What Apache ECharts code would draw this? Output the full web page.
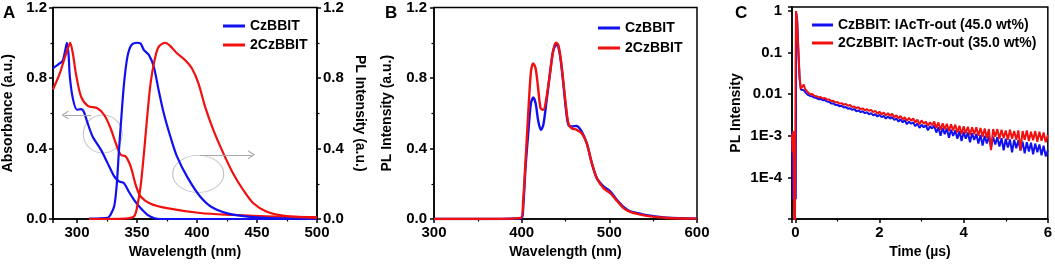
<!DOCTYPE html>
<html>
<head>
<meta charset="utf-8">
<script src="https://cdn.jsdelivr.net/npm/echarts@6/dist/echarts.min.js"></script>
<style>
  html, body { margin: 0; padding: 0; background: #fff; }
  #chart { width: 1055px; height: 264px; }
</style>
</head>
<body>
<div id="chart"></div>
<script>
// panel A: absorbance (left axis) and PL (right axis), x in nm
var absCz = [[280,0.855],[283,0.87],[285.5,0.883],[288,0.896],[290,0.95],[291.6,1.0],[293,0.93],[294,0.81],[296.5,0.685],[300,0.62],[303.4,0.623],[305.6,0.61],[308.4,0.553],[313,0.468],[320,0.392],[325.5,0.317],[331,0.242],[335,0.213],[339,0.204],[343,0.157],[347.5,0.109],[353,0.062],[358.5,0.025],[364,0.006],[369.5,0.0],[420,0.0],[500,0.0]];
var absTwo = [[280,0.735],[285.5,0.823],[289.6,0.911],[292.5,0.97],[294.3,1.0],[296.5,0.94],[299.3,0.817],[303.4,0.694],[309,0.642],[317,0.628],[322.7,0.59],[328,0.515],[332.3,0.43],[336.5,0.364],[340.6,0.355],[344.7,0.298],[348.9,0.194],[353,0.128],[361.3,0.087],[375,0.062],[402.6,0.034],[430,0.023],[457.7,0.015],[500,0.011]];
var plCzA = [[310,0.002],[325.5,0.006],[328,0.025],[331,0.072],[333,0.185],[335,0.392],[337,0.58],[339.2,0.77],[342,0.92],[345.3,0.987],[350.2,1.0],[353,0.996],[355.8,0.958],[360,0.93],[364,0.864],[368,0.732],[372.3,0.6],[377.8,0.468],[383.3,0.355],[391.6,0.242],[402.6,0.128],[413.6,0.062],[430,0.025],[457.7,0.006],[500,0.002]];
var plTwoA = [[310,0.0],[340,0.002],[347.5,0.015],[350.2,0.072],[353,0.185],[355.8,0.374],[358.5,0.58],[361.3,0.77],[364.6,0.9],[368,0.977],[373.6,1.0],[377.8,0.981],[383.3,0.94],[390,0.902],[395.7,0.855],[401.2,0.77],[406.7,0.638],[413.6,0.506],[421.9,0.374],[430,0.26],[438.4,0.166],[446.7,0.091],[457.7,0.043],[471.5,0.019],[500,0.006]];

// panel B: PL spectra
var plCzB = [[300,0],[350,0],[399.9,0.006],[401.8,0.072],[404.5,0.3],[407.5,0.487],[410.6,0.657],[413.2,0.689],[415.9,0.657],[419,0.553],[422,0.506],[424.7,0.534],[428.5,0.675],[432.3,0.826],[436.1,0.958],[440,0.99],[441.8,0.977],[444.5,0.902],[447.5,0.77],[450.6,0.619],[453.3,0.534],[457,0.525],[462.8,0.528],[468.5,0.496],[474.2,0.43],[480,0.317],[485.7,0.232],[493.3,0.185],[501,0.157],[508.5,0.109],[516.2,0.068],[523.8,0.043],[535.2,0.03],[546.7,0.019],[565.7,0.008],[600,0.002]];
var plTwoB = [[300,0],[350,0],[399.1,0.006],[401.8,0.11],[404.5,0.336],[407.5,0.6],[410.6,0.836],[413.2,0.883],[415.9,0.855],[419,0.732],[421.6,0.628],[424.7,0.619],[428.5,0.694],[432.3,0.826],[436.1,0.958],[439.2,1.0],[441.8,0.987],[444.5,0.911],[447.5,0.779],[450.6,0.638],[453.3,0.543],[457,0.515],[462.8,0.506],[468.5,0.487],[474.2,0.43],[480,0.317],[485.7,0.232],[493.3,0.175],[501,0.147],[508.5,0.104],[516.2,0.062],[523.8,0.04],[535.2,0.025],[546.7,0.015],[565.7,0.006],[600,0.002]];

// panel C: transient decay, time in us
var earlyCz = [[-0.08,1.3e-3],[-0.07,3e-4],[-0.06,3e-5],[-0.05,6e-4],[-0.04,1e-4],[-0.03,3e-5],[-0.015,1e-5],[0.0,1e-4],[0.01,3e-5],[0.02,0.9],[0.03,1.0],[0.045,0.6],[0.07,0.12],[0.1,0.024],[0.13,0.013],[0.17,0.012],[0.2,0.0125],[0.25,0.0108]];
var earlyTwo = [[-0.08,1.1e-3],[-0.065,4e-4],[-0.05,1.3e-3],[-0.04,3e-4],[-0.025,5e-6],[-0.01,3e-6],[0.005,0.05],[0.015,1.0],[0.035,0.7],[0.06,0.2],[0.1,0.027],[0.13,0.0135],[0.17,0.014],[0.2,0.017],[0.23,0.0135],[0.27,0.012]];
var timesC = [0.30,0.35,0.40,0.45,0.50,0.55,0.60,0.65,0.70,0.75,
  0.80,0.85,0.90,0.95,1.00,1.05,1.10,1.15,1.20,1.25,
  1.30,1.35,1.40,1.45,1.50,1.55,1.60,1.65,1.70,1.75,
  1.80,1.85,1.90,1.95,2.00,2.05,2.10,2.15,2.20,2.25,
  2.30,2.35,2.40,2.45,2.50,2.55,2.60,2.65,2.70,2.75,
  2.80,2.85,2.90,2.95,3.00,3.05,3.10,3.15,3.20,3.25,
  3.30,3.35,3.40,3.45,3.50,3.55,3.60,3.65,3.70,3.75,
  3.80,3.85,3.90,3.95,4.00,4.05,4.10,4.15,4.20,4.25,
  4.30,4.35,4.40,4.45,4.50,4.55,4.60,4.65,4.70,4.75,
  4.80,4.85,4.90,4.95,5.00,5.05,5.10,5.15,5.20,5.25,
  5.30,5.35,5.40,5.45,5.50,5.55,5.60,5.65,5.70,5.75,
  5.80,5.85,5.90,5.95,6.00];
var decayCz = [9.6e-3,9.1e-3,8.9e-3,8.3e-3,8.1e-3,7.6e-3,7.7e-3,7.2e-3,7.3e-3,6.7e-3,
  6.6e-3,6.0e-3,6.1e-3,5.5e-3,5.6e-3,5.1e-3,5.3e-3,4.8e-3,4.9e-3,4.5e-3,
  4.6e-3,4.2e-3,4.4e-3,3.9e-3,4.1e-3,3.7e-3,3.9e-3,3.5e-3,3.7e-3,3.3e-3,
  3.5e-3,3.1e-3,3.3e-3,2.9e-3,3.2e-3,2.8e-3,3.0e-3,2.6e-3,2.9e-3,2.6e-3,
  2.8e-3,2.4e-3,2.6e-3,2.2e-3,2.5e-3,2.1e-3,2.4e-3,1.9e-3,2.2e-3,1.95e-3,
  2.1e-3,1.7e-3,2.0e-3,1.55e-3,1.85e-3,1.6e-3,1.8e-3,1.35e-3,1.7e-3,1.5e-3,
  1.75e-3,1.2e-3,1.6e-3,1.0e-3,1.55e-3,1.1e-3,1.5e-3,0.9e-3,1.4e-3,1.0e-3,
  1.35e-3,0.85e-3,1.3e-3,0.75e-3,1.25e-3,0.85e-3,1.2e-3,0.7e-3,1.15e-3,0.8e-3,
  1.1e-3,0.65e-3,1.05e-3,0.58e-3,1.0e-3,0.65e-3,0.98e-3,0.52e-3,0.95e-3,0.62e-3,
  0.92e-3,0.55e-3,0.88e-3,0.45e-3,0.85e-3,0.52e-3,0.82e-3,0.4e-3,0.8e-3,0.5e-3,
  0.78e-3,0.44e-3,0.72e-3,0.38e-3,0.7e-3,0.42e-3,0.68e-3,0.36e-3,0.65e-3,0.4e-3,
  0.62e-3,0.34e-3,0.58e-3,0.32e-3,0.45e-3];
var decayTwo = [10.8e-3,10.0e-3,10.1e-3,9.2e-3,9.0e-3,8.4e-3,8.6e-3,7.9e-3,8.1e-3,7.5e-3,
  7.5e-3,6.9e-3,7.0e-3,6.3e-3,6.5e-3,5.9e-3,6.1e-3,5.6e-3,5.8e-3,5.3e-3,
  5.5e-3,4.9e-3,5.1e-3,4.6e-3,4.9e-3,4.3e-3,4.6e-3,4.1e-3,4.4e-3,4.0e-3,
  4.2e-3,3.7e-3,4.0e-3,3.4e-3,3.8e-3,3.3e-3,3.6e-3,3.1e-3,3.5e-3,3.0e-3,
  3.4e-3,2.8e-3,3.1e-3,2.6e-3,3.0e-3,2.5e-3,2.8e-3,2.3e-3,2.7e-3,2.3e-3,
  2.6e-3,2.1e-3,2.45e-3,1.9e-3,2.35e-3,1.95e-3,2.2e-3,1.75e-3,2.1e-3,1.8e-3,
  2.2e-3,1.55e-3,2.1e-3,1.4e-3,2.0e-3,1.45e-3,1.95e-3,1.3e-3,1.9e-3,1.35e-3,
  1.85e-3,1.2e-3,1.75e-3,1.1e-3,1.7e-3,1.15e-3,1.65e-3,1.05e-3,1.6e-3,1.1e-3,
  1.6e-3,1.0e-3,1.55e-3,0.95e-3,1.5e-3,0.9e-3,1.45e-3,0.45e-3,1.45e-3,0.95e-3,
  1.45e-3,0.85e-3,1.4e-3,0.88e-3,1.35e-3,0.8e-3,1.4e-3,0.85e-3,1.3e-3,0.8e-3,
  1.35e-3,0.45e-3,1.3e-3,0.8e-3,1.35e-3,0.75e-3,1.25e-3,0.78e-3,1.3e-3,0.72e-3,
  1.25e-3,0.76e-3,1.2e-3,0.7e-3,1.05e-3];

// grey guide marks in panel A (ellipse centres and arrows, data coords)
var guideRings = [[321.5,0.482],[401,0.256]];
var guideArrowLeft = [[312,0.59],[290,0.59]];
var guideArrowRight = [[402.5,0.364],[445.5,0.364]];

var FONT = "'Liberation Sans', Arial, sans-serif";
var BLUE = '#1010f0';
var RED = '#f01010';

function zip(ts, vs) {
  return ts.map(function (t, i) { return [t, vs[i]]; });
}

function logLabel(v) {
  var l = Math.log10(v);
  var p = Math.round(l);
  if (Math.abs(l - p) > 1e-6) return '';
  var names = { '0': '1', '-1': '0.1', '-2': '0.01', '-3': '1E-3', '-4': '1E-4' };
  return names[String(p)] || '';
}

var tickText = { color: '#000', fontFamily: FONT, fontWeight: 'bold', fontSize: 15 };
var nameText = { color: '#000', fontFamily: FONT, fontWeight: 'bold', fontSize: 14 };
var legendText = { color: '#000', fontFamily: FONT, fontWeight: 'bold', fontSize: 14 };

function axisBase(extra) {
  var base = {
    type: 'value',
    nameLocation: 'middle',
    nameTextStyle: nameText,
    axisLine: { show: true, onZero: false, lineStyle: { color: '#000', width: 1.5 } },
    axisTick: { show: true, inside: false, length: 4, lineStyle: { color: '#000', width: 1.5 } },
    minorTick: { show: true, splitNumber: 2, length: 2.5, lineStyle: { color: '#000', width: 1.2 } },
    axisLabel: Object.assign({ margin: 6 }, tickText),
    splitLine: { show: false },
    minorSplitLine: { show: false }
  };
  return Object.assign(base, extra);
}

var chart = echarts.init(document.getElementById('chart'), null, { renderer: 'canvas' });

var lineCommon = { type: 'line', showSymbol: false, symbol: 'none', animation: false, silent: true };

chart.setOption({
  backgroundColor: '#fff',
  animation: false,
  textStyle: { fontFamily: FONT },
  grid: [
    { left: 53, top: 7, width: 264, height: 212, show: true, borderColor: '#000', borderWidth: 1.5 },
    { left: 434, top: 7, width: 263, height: 212, show: true, borderColor: '#000', borderWidth: 1.5 },
    { left: 792, top: 7, width: 257, height: 212, show: true, borderColor: '#000', borderWidth: 1.5 }
  ],
  legend: [
    {
      left: 223, top: 19, padding: 0, orient: 'vertical', itemWidth: 22, itemHeight: 3, itemGap: 5, icon: 'rect',
      textStyle: legendText, data: ['CzBBIT', '2CzBBIT'], selectedMode: false
    },
    {
      left: 598, top: 21, padding: 0, orient: 'vertical', itemWidth: 22, itemHeight: 3, itemGap: 6, icon: 'rect',
      textStyle: legendText, data: ['CzBBIT ', '2CzBBIT '], selectedMode: false
    },
    {
      left: 812, top: 18, padding: 0, orient: 'vertical', itemWidth: 21, itemHeight: 3, itemGap: 4, icon: 'rect',
      textStyle: legendText,
      data: ['CzBBIT: IAcTr-out (45.0 wt%)', '2CzBBIT: IAcTr-out (35.0 wt%)'], selectedMode: false
    }
  ],
  xAxis: [
    axisBase({
      gridIndex: 0, min: 280, max: 500, splitNumber: 4,
      name: 'Wavelength (nm)', nameGap: 26,
      axisLabel: Object.assign({ margin: 6, showMinLabel: false,
        formatter: function (v) { return v % 50 === 0 ? String(v) : ''; } }, tickText)
    }),
    axisBase({
      gridIndex: 1, min: 300, max: 600, interval: 100,
      name: 'Wavelength (nm)', nameGap: 26
    }),
    axisBase({
      gridIndex: 2, min: -0.08, max: 6, splitNumber: 3,
      name: 'Time (\u00b5s)', nameGap: 26,
      axisLabel: Object.assign({ margin: 6, showMinLabel: false,
        formatter: function (v) {
          var r = Math.round(v);
          return (Math.abs(v - r) < 1e-9 && r % 2 === 0) ? String(r) : '';
        } }, tickText)
    })
  ],
  yAxis: [
    axisBase({
      gridIndex: 0, min: 0, max: 1.2, interval: 0.4,
      name: 'Absorbance (a.u.)', nameGap: 38,
      axisLabel: Object.assign({ margin: 6, formatter: function (v) { return v.toFixed(1); } }, tickText)
    }),
    axisBase({
      gridIndex: 0, position: 'right', min: 0, max: 1.2, interval: 0.4,
      name: 'PL Intensity (a.u.)', nameGap: 36, nameRotate: -90,
      axisLabel: Object.assign({ margin: 6, formatter: function (v) { return v.toFixed(1); } }, tickText)
    }),
    axisBase({
      gridIndex: 1, min: 0, max: 1.2, interval: 0.4,
      name: 'PL Intensity (a.u.)', nameGap: 40,
      axisLabel: Object.assign({ margin: 7, formatter: function (v) { return v.toFixed(1); } }, tickText)
    }),
    axisBase({
      gridIndex: 2, type: 'log', logBase: 10, min: 1e-5, max: 1.25,
      name: 'PL Intensity', nameGap: 49,
      minorTick: { show: false },
      axisLabel: Object.assign({ margin: 10, formatter: logLabel }, tickText)
    })
  ],
  graphic: [
    { type: 'text', left: 3, top: 5, style: { text: 'A', fill: '#000', font: 'bold 17px ' + FONT } },
    { type: 'text', left: 385, top: 5, style: { text: 'B', fill: '#000', font: 'bold 17px ' + FONT } },
    { type: 'text', left: 735, top: 5, style: { text: 'C', fill: '#000', font: 'bold 17px ' + FONT } }
  ],
  series: [
    Object.assign({}, lineCommon, { name: 'CzBBIT', xAxisIndex: 0, yAxisIndex: 0, data: absCz, smooth: 0.3,
      lineStyle: { color: BLUE, width: 2.2 }, itemStyle: { color: BLUE } }),
    Object.assign({}, lineCommon, { name: '2CzBBIT', xAxisIndex: 0, yAxisIndex: 0, data: absTwo, smooth: 0.3,
      lineStyle: { color: RED, width: 2.2 }, itemStyle: { color: RED } }),
    Object.assign({}, lineCommon, { name: 'CzBBIT', xAxisIndex: 0, yAxisIndex: 1, data: plCzA, smooth: 0.3,
      lineStyle: { color: BLUE, width: 2.2 }, itemStyle: { color: BLUE } }),
    Object.assign({}, lineCommon, { name: '2CzBBIT', xAxisIndex: 0, yAxisIndex: 1, data: plTwoA, smooth: 0.3,
      lineStyle: { color: RED, width: 2.2 }, itemStyle: { color: RED } }),
    {
      type: 'scatter', name: 'guides', xAxisIndex: 0, yAxisIndex: 0, silent: true, animation: false,
      data: guideRings,
      symbol: 'circle',
      symbolSize: function (val, p) { return p.dataIndex === 0 ? [39, 38] : [51, 37]; },
      itemStyle: { color: 'rgba(0,0,0,0)', borderColor: '#b4b4b4', borderWidth: 1 },
      markLine: {
        silent: true, animation: false,
        symbol: ['none', 'path://M0,10 L5,0 L10,10 L8.6,10 L5,3 L1.4,10 Z'],
        symbolSize: [9, 7],
        label: { show: false },
        lineStyle: { color: '#a8a8a8', width: 1, type: 'solid' },
        emphasis: { disabled: true },
        data: [
          [{ coord: guideArrowLeft[0] }, { coord: guideArrowLeft[1] }],
          [{ coord: guideArrowRight[0] }, { coord: guideArrowRight[1] }]
        ]
      }
    },
    Object.assign({}, lineCommon, { name: 'CzBBIT ', xAxisIndex: 1, yAxisIndex: 2, data: plCzB, smooth: 0.3,
      lineStyle: { color: BLUE, width: 2.4 }, itemStyle: { color: BLUE } }),
    Object.assign({}, lineCommon, { name: '2CzBBIT ', xAxisIndex: 1, yAxisIndex: 2, data: plTwoB, smooth: 0.3,
      lineStyle: { color: RED, width: 2.4 }, itemStyle: { color: RED } }),
    Object.assign({}, lineCommon, { name: 'CzBBIT: IAcTr-out (45.0 wt%)', xAxisIndex: 2, yAxisIndex: 3,
      data: earlyCz.concat(zip(timesC, decayCz)),
      lineStyle: { color: BLUE, width: 2 }, itemStyle: { color: BLUE } }),
    Object.assign({}, lineCommon, { name: '2CzBBIT: IAcTr-out (35.0 wt%)', xAxisIndex: 2, yAxisIndex: 3,
      data: earlyTwo.concat(zip(timesC, decayTwo)),
      lineStyle: { color: RED, width: 2 }, itemStyle: { color: RED } })
  ]
});
</script>
</body>
</html>
